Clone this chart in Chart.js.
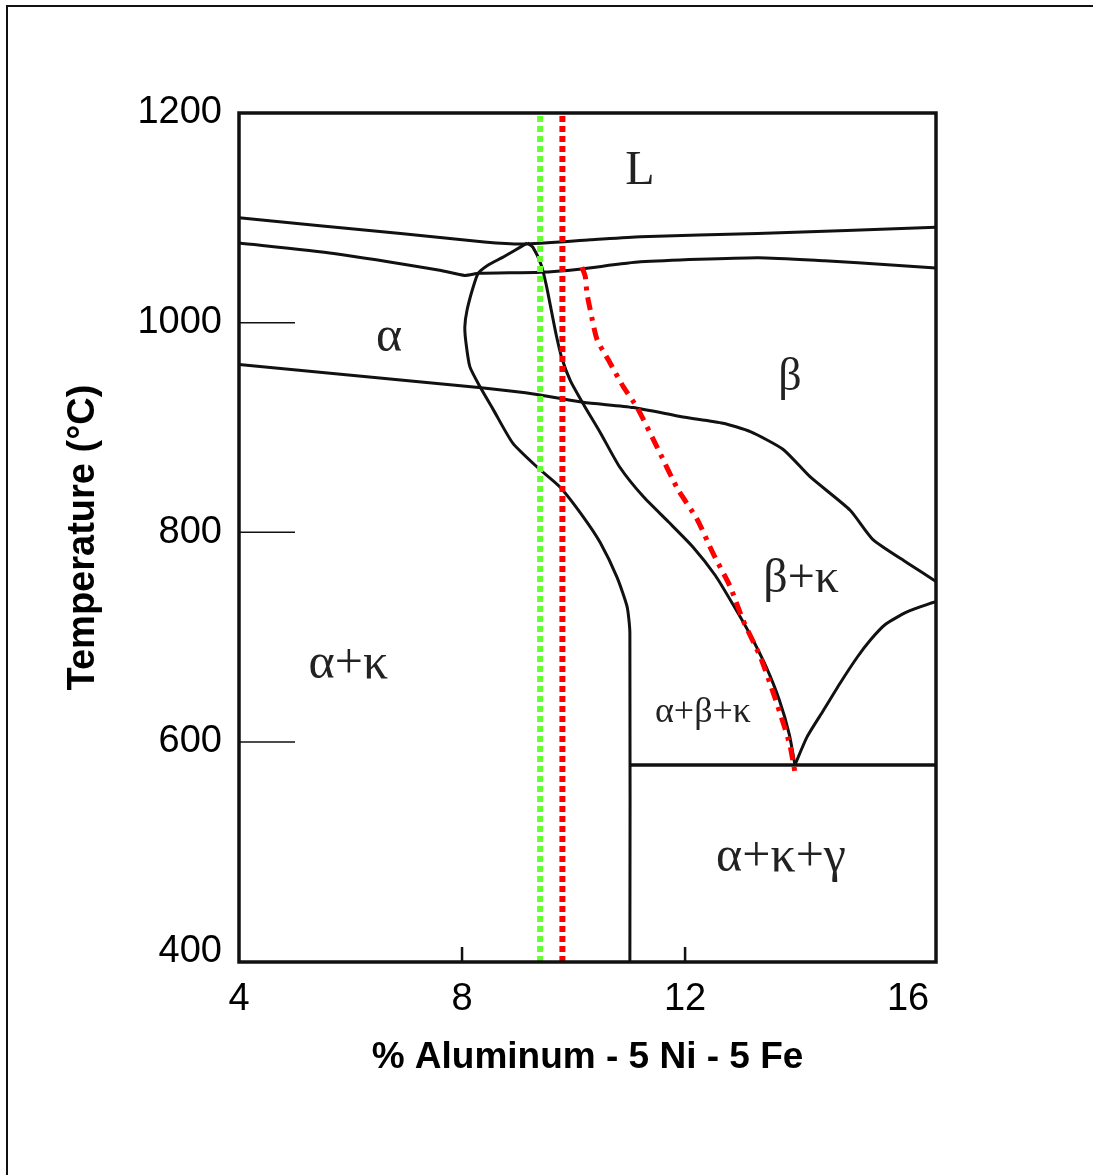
<!DOCTYPE html>
<html>
<head>
<meta charset="utf-8">
<script src="https://cdn.jsdelivr.net/npm/chart.js@4.4.0/dist/chart.umd.min.js"></script>
<style>
  html, body { margin: 0; padding: 0; background: #fff; }
  canvas { display: block; }
</style>
</head>
<body>
<canvas id="phaseChart" width="1093" height="1175"></canvas>
<script>
// axis ticks
const xTicks = [4, 8, 12, 16];
const yTicks = [400, 600, 800, 1000, 1200];
const xInnerTicks = [8, 12];
const yInnerTicks = [600, 800, 1000];
const xMin = 4, xMax = 16.5, yMin = 390, yMax = 1200;

// phase boundaries: % Al against temperature
const liquidusAl = [4, 6.9, 8.4, 9.1, 10.3, 11.2, 13.3, 16.5];
const liquidusT  = [1100, 1085, 1077, 1075, 1079, 1082, 1085, 1091];

const solidusAl = [4, 5.7, 7.6, 8.05, 8.3, 9.4, 10.1, 11.2, 13.3, 14.5, 15.7, 16.5];
const solidusT  = [1076, 1066, 1050, 1045, 1047, 1048, 1051, 1058, 1062, 1059, 1055, 1052];

const kappaAl = [4, 8.3, 9.4, 10.17, 11.07, 11.96, 12.68, 13.17, 13.76, 14.24, 14.96, 15.37, 15.98, 16.5];
const kappaT  = [960, 938, 931, 924, 919, 910, 904, 896, 879, 853, 821, 793, 771, 753];

const alphaAl = [9.17, 8.95, 8.72, 8.47, 8.29, 8.2, 8.09, 8.05, 8.07, 8.14, 8.32, 8.56, 8.91, 9.35, 9.76, 10.17, 10.48, 10.78, 10.96, 11.01, 11.01];
const alphaT  = [1076, 1069, 1062, 1055, 1047, 1034, 1012, 996, 981, 958, 939, 917, 885, 862, 843, 815, 790, 757, 729, 704, 390];

const betaAl = [9.17, 9.27, 9.42, 9.51, 9.6, 9.69, 9.79, 9.94, 10.19, 10.48, 10.83, 11.25, 11.7, 12.14, 12.54, 12.86, 13.17, 13.45, 13.69, 13.87, 13.97];
const betaT  = [1076, 1072, 1055, 1036, 1012, 988, 966, 945, 921, 895, 862, 834, 810, 786, 759, 731, 702, 672, 640, 607, 578];

const kappaRightAl = [13.97, 14.19, 14.48, 14.78, 15.09, 15.32, 15.59, 15.98, 16.5];
const kappaRightT  = [578, 605, 630, 656, 681, 697, 712, 724, 734];

const eutectoidAl = [11.01, 16.5];
const eutectoidT  = [578, 578];

// red dash-dot curve
const traceAl = [10.15, 10.21, 10.24, 10.3, 10.42, 10.65, 10.89, 11.14, 11.5, 11.86, 12.22, 12.5, 12.81, 13.04, 13.35, 13.58, 13.76, 13.88, 13.97];
const traceT  = [1053, 1044, 1028, 1012, 984, 962, 939, 919, 881, 842, 812, 780, 748, 716, 681, 647, 618, 597, 571];

// alloys marked by the dotted verticals
const alloyGreen = 9.4;
const alloyRed = 9.8;

// phase field names
const phaseNames = ['L', 'α', 'β', 'β+κ', 'α+κ', 'α+β+κ', 'α+κ+γ'];
const phaseAl    = [11.19, 6.69, 13.88, 14.08, 5.96, 12.32, 13.72];
const phaseT     = [1144, 985, 947, 755, 673, 628, 489];

const pts = (xs, ys) => xs.map((x, i) => ({ x: x, y: ys[i] }));

function curve(xs, ys, extra) {
    return Object.assign({
        data: pts(xs, ys),
        showLine: true,
        pointRadius: 0,
        borderColor: '#111',
        borderWidth: 3,
        tension: 0.2,
        fill: false
    }, extra);
}

const decorations = {
    id: 'decorations',
    beforeDraw(chart) {
        const { ctx, width, height } = chart;
        ctx.save();
        ctx.fillStyle = '#fff';
        ctx.fillRect(0, 0, width, height);
        ctx.strokeStyle = '#111';
        ctx.lineWidth = 2;
        ctx.beginPath();
        ctx.moveTo(7, height);
        ctx.lineTo(7, 6);
        ctx.lineTo(width, 6);
        ctx.stroke();
        ctx.restore();
    },
    afterDatasetsDraw(chart, args, opts) {
        const { ctx, chartArea: a, scales: { x, y } } = chart;
        ctx.save();
        // plot box
        ctx.strokeStyle = '#111';
        ctx.lineWidth = 3.5;
        ctx.strokeRect(a.left, a.top, a.right - a.left, a.bottom - a.top);
        // inner tick marks
        ctx.lineWidth = 1.5;
        yInnerTicks.forEach(v => {
            const py = y.getPixelForValue(v);
            ctx.beginPath();
            ctx.moveTo(a.left, py);
            ctx.lineTo(a.left + 56, py);
            ctx.stroke();
        });
        ctx.lineWidth = 2.5;
        xInnerTicks.forEach(v => {
            const px = x.getPixelForValue(v);
            ctx.beginPath();
            ctx.moveTo(px, a.bottom);
            ctx.lineTo(px, a.bottom - 15);
            ctx.stroke();
        });
        // phase field labels
        ctx.fillStyle = '#222';
        ctx.textAlign = 'center';
        ctx.textBaseline = 'middle';
        phaseNames.forEach((name, i) => {
            ctx.font = opts.sizes[i] + "px 'Liberation Serif', 'Times New Roman', serif";
            ctx.fillText(name, x.getPixelForValue(phaseAl[i]), y.getPixelForValue(phaseT[i]));
        });
        ctx.restore();
    }
};

const sansFamily = "'Liberation Sans', Arial, sans-serif";
const tickFont = { family: sansFamily, size: 38 };

const ctx = document.getElementById('phaseChart').getContext('2d');

const phaseChart = new Chart(ctx, {
    type: 'scatter',
    data: {
        datasets: [
            curve([alloyGreen, alloyGreen], [yMin, yMax], { borderColor: '#66ff33', borderWidth: 6, borderDash: [6, 4], tension: 0 }),
            curve([alloyRed, alloyRed], [yMin, yMax], { borderColor: '#ff0000', borderWidth: 6, borderDash: [6, 4], tension: 0 }),
            curve(traceAl, traceT, { borderColor: '#ff0000', borderWidth: 5, borderDash: [13, 7, 4, 7] }),
            curve(liquidusAl, liquidusT),
            curve(solidusAl, solidusT),
            curve(kappaAl, kappaT),
            curve(alphaAl, alphaT),
            curve(betaAl, betaT),
            curve(kappaRightAl, kappaRightT),
            curve(eutectoidAl, eutectoidT, { borderWidth: 3.5, tension: 0 })
        ]
    },
    options: {
        responsive: false,
        animation: false,
        devicePixelRatio: 1,
        layout: { padding: { top: 113, right: 157, bottom: 0, left: 0 } },
        plugins: {
            legend: { display: false },
            tooltip: { enabled: false },
            decorations: { sizes: [48, 50, 46, 48, 50, 36, 50] }
        },
        scales: {
            x: {
                type: 'linear',
                min: xMin,
                max: xMax,
                afterBuildTicks: s => { s.ticks = xTicks.map(v => ({ value: v })); },
                afterFit: s => { s.height = 213; },
                grid: { display: false, drawTicks: false },
                border: { display: false },
                ticks: { color: '#000', padding: 15, font: tickFont, callback: v => String(v) },
                title: {
                    display: true,
                    text: '% Aluminum - 5 Ni - 5 Fe',
                    color: '#000',
                    font: { family: sansFamily, size: 37, weight: 'bold' },
                    padding: { top: 0, bottom: 95 }
                }
            },
            y: {
                type: 'linear',
                min: yMin,
                max: yMax,
                afterBuildTicks: s => { s.ticks = yTicks.map(v => ({ value: v })); },
                afterFit: s => { s.width = 239; },
                grid: { display: false, drawTicks: false },
                border: { display: false },
                ticks: { color: '#000', padding: 17, font: tickFont, callback: v => String(v) },
                title: {
                    display: true,
                    text: 'Temperature (°C)',
                    color: '#000',
                    font: { family: sansFamily, size: 38, weight: 'bold' },
                    padding: { top: 61, bottom: 0 }
                }
            }
        }
    },
    plugins: [decorations]
});
</script>
</body>
</html>
